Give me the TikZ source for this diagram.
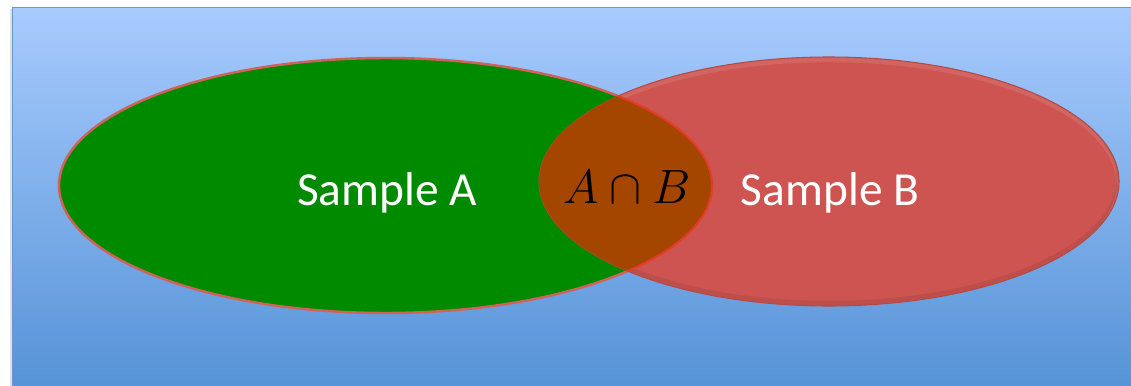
\documentclass[tikz,border=0pt]{standalone}
\usepackage{fontspec}
\setmainfont{Carlito}
\usepackage{tikz}

\begin{document}
\begin{tikzpicture}[x=0.02cm, y=-0.02cm]

% Colori
\definecolor{colCieloAlto}{HTML}{A8CBFE}
\definecolor{colCieloBasso}{HTML}{5492D6}
\definecolor{colCornice}{HTML}{6C97CA}
\definecolor{colA}{HTML}{008A00}
\definecolor{colBordoA}{HTML}{D0625A}
\definecolor{colB}{HTML}{CD5450}
\definecolor{colBordoB}{HTML}{B44A48}
\definecolor{colAB}{HTML}{A44600}
\definecolor{colLineaAB}{HTML}{E23C24}

% Centri e semiassi degli insiemi
\def\ax{385.5} \def\ay{185.5} \def\arx{326.5} \def\ary{127.5}
\def\bx{829}   \def\by{181.5} \def\brx{290}   \def\bry{124.5}

\tikzset{
  etichetta/.style={text=white, font=\fontsize{27}{32}\selectfont, anchor=base, inner sep=0pt},
  formula/.style={text=black, font=\fontsize{24.88}{30}\selectfont, scale=1.1, anchor=base, inner sep=0pt}
}

\useasboundingbox (0,0) rectangle (1131,385);

% Sfondo
\begin{scope}
\clip (0,0) rectangle (1131,385);
\fill[black!12] (10,9) rectangle (1140,395);
\shade[top color=colCieloAlto, bottom color=colCieloBasso, draw=colCornice, line width=1.1pt]
(12.5,7.5) rectangle (1140,395);
\end{scope}

% Insieme A
\fill[colA] (\ax,\ay) ellipse [x radius=\arx, y radius=\ary];
\draw[colBordoA, line width=1.4pt] (\ax,\ay) ellipse [x radius=\arx, y radius=\ary];

% Insieme B
\fill[colB] (\bx,\by) ellipse [x radius=\brx, y radius=\bry];
\begin{scope}
\clip (\bx,\by) ellipse [x radius=\brx, y radius=\bry];
\draw[white, opacity=0.10, line width=3pt] (\bx,\by+2.5) ellipse [x radius=\brx, y radius=\bry];
\draw[black, opacity=0.07, line width=3pt] (\bx,\by-2.5) ellipse [x radius=\brx, y radius=\bry];
\end{scope}
\draw[colBordoB, line width=0.6pt] (\bx,\by) ellipse [x radius=\brx, y radius=\bry];

% Intersezione
\begin{scope}
\clip (\bx,\by) ellipse [x radius=\brx, y radius=\bry];
\fill[colAB] (\ax,\ay) ellipse [x radius=\arx, y radius=\ary];
\draw[colLineaAB, line width=1.2pt] (\ax,\ay) ellipse [x radius=\arx, y radius=\ary];
\end{scope}

% Etichette
\node[etichetta] (campA) at (387,205) {Sample A};
\node[etichetta] (campB) at (830,205) {Sample B};
\node[formula] (interAB) at (627,203) {$A\cap B$};
\end{tikzpicture}
\end{document}
